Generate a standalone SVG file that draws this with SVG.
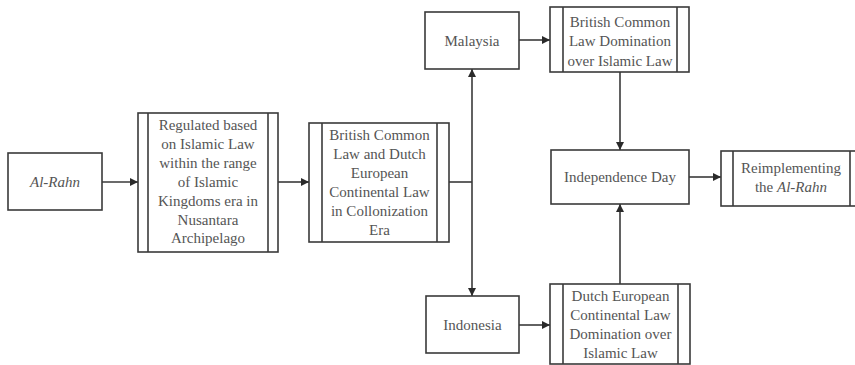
<svg xmlns="http://www.w3.org/2000/svg" width="855" height="365" viewBox="0 0 855 365">
<defs>
<marker id="ah" viewBox="0 0 10 10" refX="10" refY="5" markerWidth="9" markerHeight="8" markerUnits="userSpaceOnUse" orient="auto">
<path d="M0,0 L10,5 L0,10 z" fill="#2a2a2a"/>
</marker>
</defs>
<style>
rect{fill:#fff;stroke:#3a3a3a;stroke-width:1.6}
.bar{stroke:#3a3a3a;stroke-width:1.6}
text{font-family:"Liberation Serif","Times New Roman",serif;font-size:15px;fill:#555;text-anchor:middle}
.it{font-style:italic}
.c{fill:none;stroke:#3a3a3a;stroke-width:1.6}
</style>
<rect x="0" y="0" width="855" height="365" style="fill:#fff;stroke:none"/>
<g id="connectors">
<path class="c" d="M102,182 L138,182" marker-end="url(#ah)"/>
<path class="c" d="M278,182 L309,182" marker-end="url(#ah)"/>
<path class="c" d="M449,182 L472,182"/>
<path class="c" d="M472,182 L472,69" marker-end="url(#ah)"/>
<path class="c" d="M472,182 L472,296" marker-end="url(#ah)"/>
<path class="c" d="M519,40 L550,40" marker-end="url(#ah)"/>
<path class="c" d="M519,325 L550,325" marker-end="url(#ah)"/>
<path class="c" d="M620,72 L620,150" marker-end="url(#ah)"/>
<path class="c" d="M620,284 L620,204" marker-end="url(#ah)"/>
<path class="c" d="M689,177 L721,177" marker-end="url(#ah)"/>
</g>
<g id="n-alrahn">
<rect x="8" y="153" width="94" height="57"/>
<text x="55" y="187" class="it">Al-Rahn</text>
</g>
<g id="n-regulated">
<rect x="138" y="113" width="140" height="139"/>
<line class="bar" x1="148" y1="113" x2="148" y2="252"/>
<line class="bar" x1="268" y1="113" x2="268" y2="252"/>
<text x="208" y="130">Regulated based</text>
<text x="208" y="149">on Islamic Law</text>
<text x="208" y="168">within the range</text>
<text x="208" y="187">of Islamic</text>
<text x="208" y="206">Kingdoms era in</text>
<text x="208" y="225">Nusantara</text>
<text x="208" y="243">Archipelago</text>
</g>
<g id="n-colonization">
<rect x="309" y="123" width="140" height="119"/>
<line class="bar" x1="322" y1="123" x2="322" y2="242"/>
<line class="bar" x1="437" y1="123" x2="437" y2="242"/>
<text x="379.5" y="140">British Common</text>
<text x="379.5" y="159">Law and Dutch</text>
<text x="379.5" y="178">European</text>
<text x="379.5" y="197">Continental Law</text>
<text x="379.5" y="216">in Collonization</text>
<text x="379.5" y="235">Era</text>
</g>
<g id="n-malaysia">
<rect x="425" y="12" width="94" height="57"/>
<text x="472" y="46">Malaysia</text>
</g>
<g id="n-indonesia">
<rect x="426" y="296" width="93" height="57"/>
<text x="472.5" y="330">Indonesia</text>
</g>
<g id="n-british">
<rect x="550" y="7" width="139" height="65"/>
<line class="bar" x1="563" y1="7" x2="563" y2="72"/>
<line class="bar" x1="677" y1="7" x2="677" y2="72"/>
<text x="620" y="27">British Common</text>
<text x="620" y="46">Law Domination</text>
<text x="620" y="66">over Islamic Law</text>
</g>
<g id="n-dutch">
<rect x="550" y="284" width="140" height="80"/>
<line class="bar" x1="563" y1="284" x2="563" y2="364"/>
<line class="bar" x1="678" y1="284" x2="678" y2="364"/>
<text x="620.5" y="301">Dutch European</text>
<text x="620.5" y="320">Continental Law</text>
<text x="620.5" y="339">Domination over</text>
<text x="620.5" y="358">Islamic Law</text>
</g>
<g id="n-independence">
<rect x="551" y="150" width="138" height="54"/>
<text x="620" y="182">Independence Day</text>
</g>
<g id="n-reimplementing">
<rect x="721" y="151" width="142" height="55"/>
<line class="bar" x1="733" y1="151" x2="733" y2="206"/>
<line class="bar" x1="850" y1="151" x2="850" y2="206"/>
<text x="791" y="173">Reimplementing</text>
<text x="791" y="192">the <tspan class="it">Al-Rahn</tspan></text>
</g>
</svg>
